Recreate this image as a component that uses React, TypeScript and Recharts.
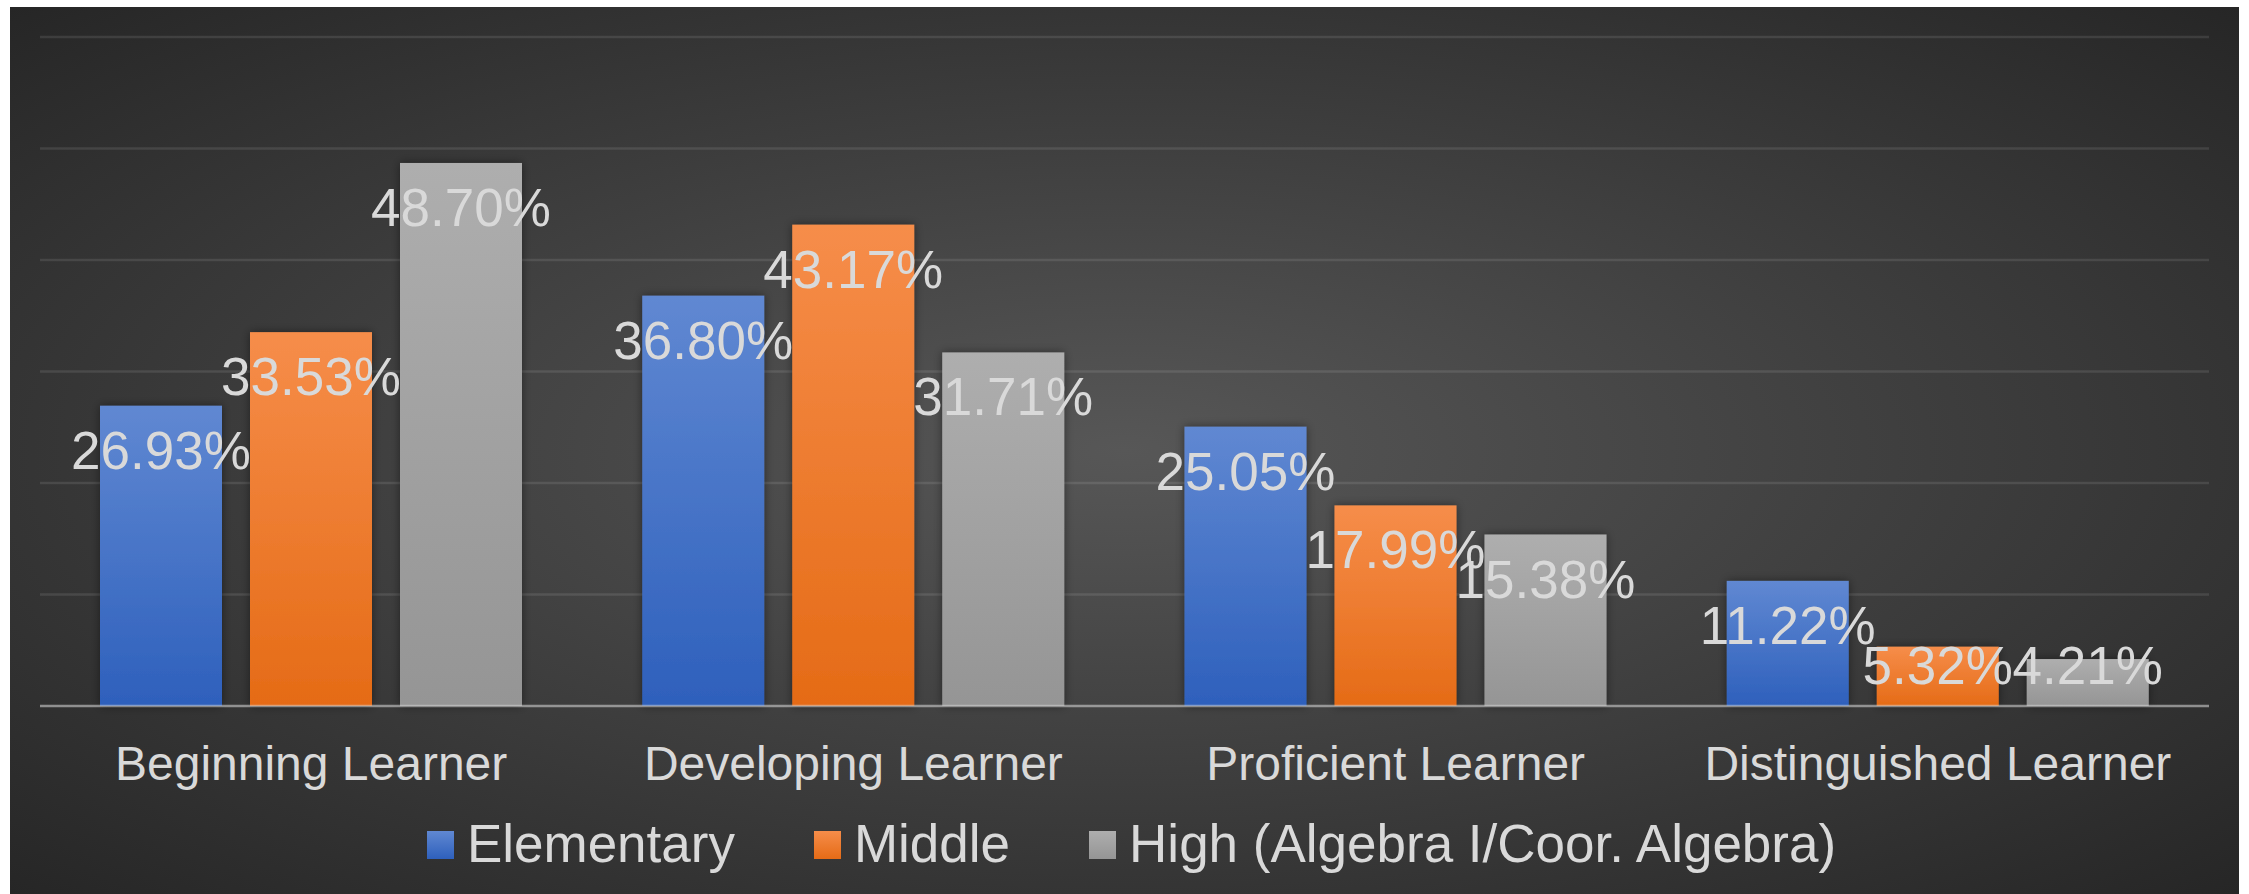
import React from 'react';
import { BarChart, Bar, XAxis, YAxis, CartesianGrid, Legend, LabelList, ReferenceLine } from 'recharts';

// Share of students at each learner level (percent)
const categories = ['Beginning Learner', 'Developing Learner', 'Proficient Learner', 'Distinguished Learner'];
const elementary = [26.93, 36.8, 25.05, 11.22];
const middle = [33.53, 43.17, 17.99, 5.32];
const high = [48.7, 31.71, 15.38, 4.21];
const yTicks = [0, 10, 20, 30, 40, 50, 60];

const seriesNames = ['Elementary', 'Middle', 'High (Algebra I/Coor. Algebra)'];

const data = categories.map((name, i) => ({
  name,
  elementary: elementary[i],
  middle: middle[i],
  high: high[i],
}));

const FONT = '"Liberation Sans", Arial, sans-serif';
const TEXT = '#d9d9d9';

const gradients = [
  { id: 'gBlue', top: '#6088d2', bottom: '#2e60bc' },
  { id: 'gOrange', top: '#f68d4a', bottom: '#e56b16' },
  { id: 'gGray', top: '#aeaeae', bottom: '#959595' },
];

const BarShape = (props: any) => {
  const { x, y, width, height, fill } = props;
  if (!height || height <= 0) return null;
  return <rect x={x} y={y} width={width} height={height} fill={fill} filter="url(#barShadow)" />;
};

const ValueLabel = (props: any) => {
  const { x, y, width, height, value } = props;
  // inside end; short bars keep the label above the axis
  const base = Math.min(y + 63, y + height - 22);
  return (
    <text x={x + width / 2} y={base} textAnchor="middle" fill={TEXT} fontSize={53} fontFamily={FONT}>
      {value.toFixed(2)}%
    </text>
  );
};

const LegendContent = () => (
  <div
    style={{
      height: 77,
      display: 'flex',
      justifyContent: 'center',
      paddingLeft: 14,
      fontFamily: FONT,
      fontSize: 53,
      lineHeight: '53px',
      color: TEXT,
      boxSizing: 'border-box',
    }}
  >
    {seriesNames.map((n, i) => (
      <div key={n} style={{ display: 'flex', alignItems: 'center', height: 53, marginRight: i < 2 ? 79 : 0 }}>
        <span
          style={{
            display: 'inline-block',
            width: 27,
            height: 28,
            marginTop: 3,
            marginRight: 13,
            background: `linear-gradient(${gradients[i].top}, ${gradients[i].bottom})`,
          }}
        />
        <span style={{ whiteSpace: 'nowrap' }}>{n}</span>
      </div>
    ))}
  </div>
);

const App = () => {
  return (
    <div
      style={{
        position: 'absolute',
        left: 10,
        top: 7,
        width: 2229,
        height: 887,
        background: 'radial-gradient(ellipse farthest-corner at 50% 50%, #575757 0%, #262626 100%)',
      }}
    >
      <BarChart
        width={2229}
        height={887}
        data={data}
        margin={{ top: 30, right: 30, left: 30, bottom: 0 }}
        barSize={122}
        barGap={28}
      >
        <defs>
          {gradients.map((g) => (
            <linearGradient key={g.id} id={g.id} x1="0" y1="0" x2="0" y2="1">
              <stop offset="0%" stopColor={g.top} />
              <stop offset="100%" stopColor={g.bottom} />
            </linearGradient>
          ))}
          <filter id="barShadow" x="-20%" y="-20%" width="140%" height="140%">
            <feDropShadow dx="0" dy="0" stdDeviation="5" floodColor="#000" floodOpacity="0.45" />
          </filter>
        </defs>
        <CartesianGrid vertical={false} stroke="#ffffff" strokeOpacity={0.1} strokeWidth={2.5} />
        <XAxis
          dataKey="name"
          height={111}
          interval={0}
          tickLine={false}
          axisLine={false}
          tickSize={0}
          tickMargin={40}
          tick={{ fill: TEXT, fontSize: 48, fontFamily: FONT }}
        />
        <YAxis hide domain={[0, 60]} ticks={yTicks} />
        <Legend verticalAlign="bottom" content={<LegendContent />} />
        <Bar dataKey="elementary" name={seriesNames[0]} fill="url(#gBlue)" shape={<BarShape />} isAnimationActive={false}>
          <LabelList dataKey="elementary" content={<ValueLabel />} />
        </Bar>
        <Bar dataKey="middle" name={seriesNames[1]} fill="url(#gOrange)" shape={<BarShape />} isAnimationActive={false}>
          <LabelList dataKey="middle" content={<ValueLabel />} />
        </Bar>
        <Bar dataKey="high" name={seriesNames[2]} fill="url(#gGray)" shape={<BarShape />} isAnimationActive={false}>
          <LabelList dataKey="high" content={<ValueLabel />} />
        </Bar>
        <ReferenceLine y={0} stroke="#d9d9d9" strokeOpacity={0.5} strokeWidth={2.5} />
      </BarChart>
    </div>
  );
};

export default App;
